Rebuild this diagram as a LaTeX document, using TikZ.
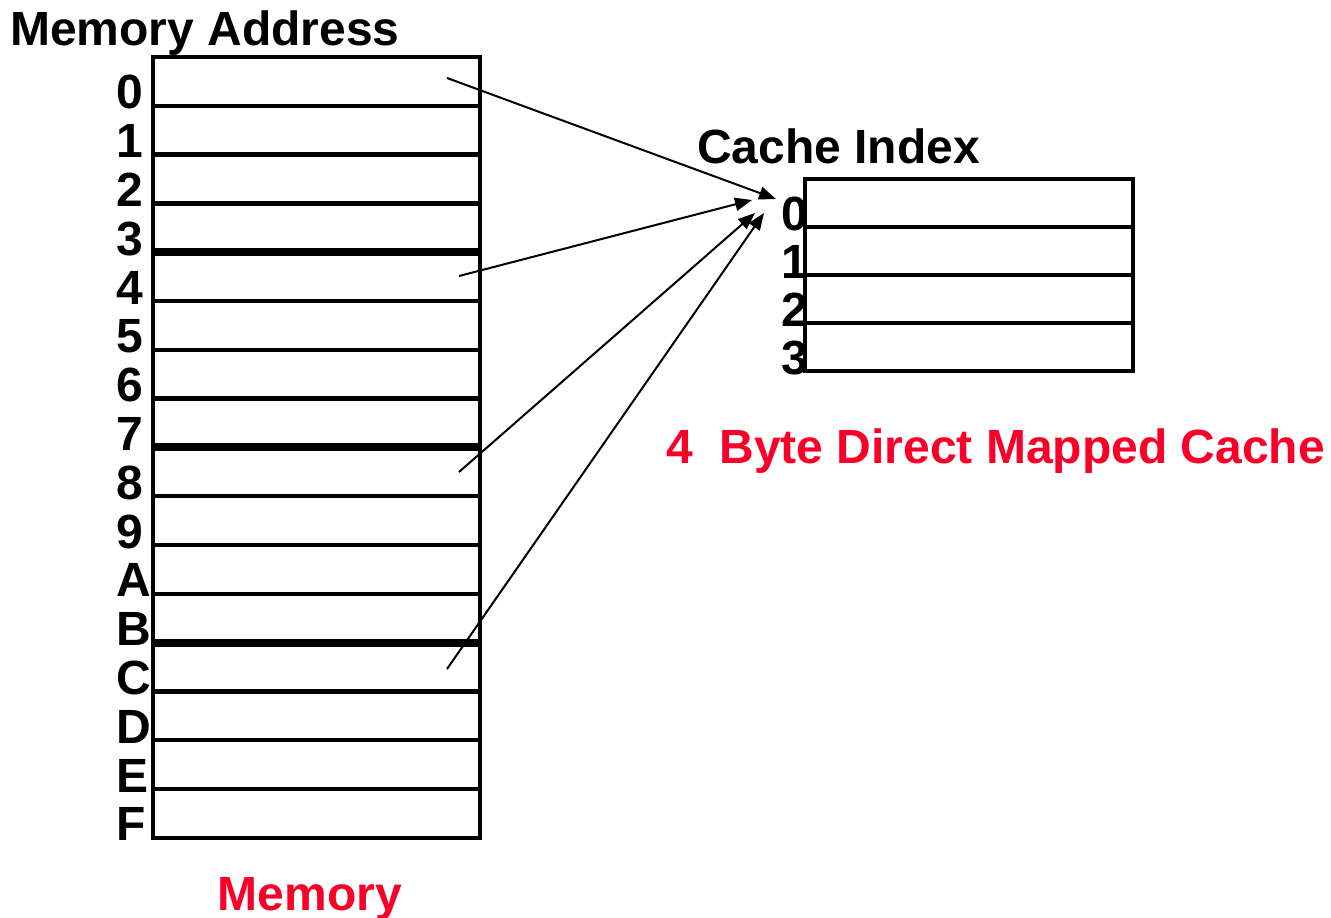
\documentclass[tikz,border=0pt]{standalone}
\usepackage{fontspec}
\setmainfont{Liberation Sans}
\usetikzlibrary{arrows.meta}
\definecolor{labelred}{RGB}{250,0,40}
\begin{document}
\begin{tikzpicture}[x=1pt,y=-1pt,
  txt/.style={font=\fontsize{48}{50}\selectfont\bfseries, inner sep=0pt, anchor=base west},
  box/.style={draw, line width=4.5pt, inner sep=0pt, outer sep=0pt, anchor=north west},
  sep/.style={line width=4.5pt},
  bsep/.style={line width=8pt},
  ptr/.style={line width=2pt, -{Triangle[length=17pt,width=13pt]}}]
\useasboundingbox (0,0) rectangle (1331,918);

% memory column: 16 rows of 48.8 units
\node[box, minimum width=327pt, minimum height=781pt] (mem) at (153,57) {};
\foreach \k in {1,...,15}{
  \pgfmathtruncatemacro{\grp}{mod(\k,4)==0}
  \ifnum\grp=1
    \draw[bsep] (153,{57+48.8*\k}) -- (480,{57+48.8*\k});
  \else
    \draw[sep] (153,{57+48.8*\k}) -- (480,{57+48.8*\k});
  \fi
}
\foreach \k/\t in {0/0,1/1,2/2,3/3,4/4,5/5,6/6,7/7,8/8,9/9,10/A,11/B,12/C,13/D,14/E,15/F}
  \node[txt] (m\k) at (116,{57+48.8*(\k+1)+3}) {\t};

\node[txt] (memaddr) at (10,45) {Memory Address};
\node[txt, anchor=base, text=labelred] (memcap) at (310,910) {Memory};

% cache: 4 rows of 48 units
\node[box, minimum width=328pt, minimum height=192pt] (cache) at (805,179) {};
\foreach \k in {1,2,3}
  \draw[sep] (805,{179+48*\k}) -- (1133,{179+48*\k});
\foreach \k in {0,1,2,3}
  \node[txt] (c\k) at (781,{179+48*(\k+1)+3}) {\k};

\node[txt] (cidx) at (697,163) {Cache Index};
\node[txt, text=labelred] (ccap) at (666,463) {4\ \ Byte Direct Mapped Cache};

% blocks 0, 4, 8, C all map to cache index 0
\coordinate (s0) at (447,78);
\coordinate (s4) at (459,276);
\coordinate (s8) at (459,472);
\coordinate (sC) at (447,669);
\coordinate (t0) at (776,199);
\coordinate (t4) at (752,200);
\coordinate (t8) at (755,213);
\coordinate (tC) at (764,213);
\draw[ptr] (s0) -- (t0);
\draw[ptr] (s4) -- (t4);
\draw[ptr] (s8) -- (t8);
\draw[ptr] (sC) -- (tC);
\end{tikzpicture}
\end{document}
